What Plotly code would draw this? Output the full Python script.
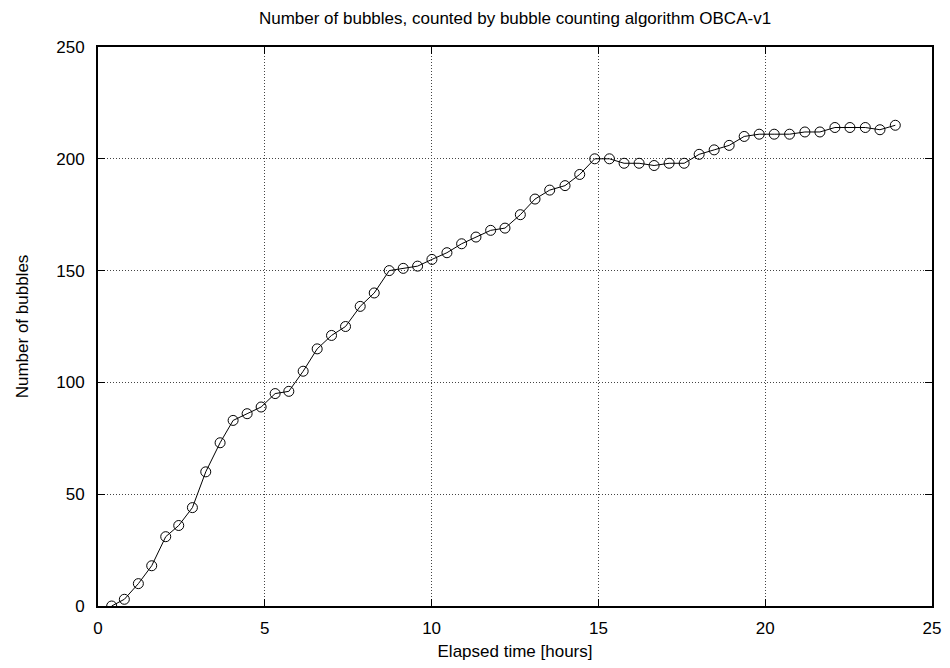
import plotly.graph_objects as go

# Elapsed time in hours and bubble counts from OBCA-v1
hours = [0.41, 0.79, 1.21, 1.61, 2.03, 2.42, 2.83, 3.23, 3.66, 4.05,
         4.47, 4.89, 5.31, 5.72, 6.15, 6.57, 7.00, 7.42, 7.86, 8.28,
         8.73, 9.15, 9.58, 10.01, 10.46, 10.90, 11.33, 11.77, 12.20, 12.66,
         13.10, 13.54, 14.00, 14.44, 14.89, 15.33, 15.77, 16.22, 16.67, 17.12,
         17.57, 18.02, 18.47, 18.92, 19.37, 19.82, 20.27, 20.73, 21.19, 21.64,
         22.09, 22.54, 23.00, 23.44, 23.90]
bubbles = [0, 3, 10, 18, 31, 36, 44, 60, 73, 83,
           86, 89, 95, 96, 105, 115, 121, 125, 134, 140,
           150, 151, 152, 155, 158, 162, 165, 168, 169, 175,
           182, 186, 188, 193, 200, 200, 198, 198, 197, 198,
           198, 202, 204, 206, 210, 211, 211, 211, 212, 212,
           214, 214, 214, 213, 215]

x_ticks = [0, 5, 10, 15, 20, 25]
y_ticks = [0, 50, 100, 150, 200, 250]

FONT = "Liberation Sans, Arial, Helvetica, sans-serif"
FS = 17

fig = go.Figure(
    go.Scatter(
        x=hours,
        y=bubbles,
        mode="lines+markers",
        line=dict(color="black", width=1),
        marker=dict(symbol="circle-open", size=10, color="black",
                    line=dict(color="black", width=1)),
        showlegend=False,
    )
)

axis_common = dict(
    showline=True,
    linecolor="black",
    linewidth=2,
    mirror="allticks",
    ticks="inside",
    ticklen=7,
    tickwidth=1,
    tickcolor="black",
    showgrid=True,
    gridcolor="#444444",
    griddash="1px,2px",
    gridwidth=1,
    zeroline=False,
    automargin=False,
    tickfont=dict(family=FONT, size=FS, color="black"),
)

fig.update_xaxes(
    range=[0, 25],
    tickvals=x_ticks,
    ticklabelstandoff=6,
    title=dict(text="Elapsed time [hours]", font=dict(family=FONT, size=FS, color="black"),
               standoff=8),
    **axis_common,
)
fig.update_yaxes(
    range=[0, 250],
    tickvals=y_ticks,
    ticklabelstandoff=8,
    title=dict(text="Number of bubbles", font=dict(family=FONT, size=FS, color="black"),
               standoff=23),
    **axis_common,
)

fig.update_layout(
    width=950,
    height=668,
    margin=dict(l=98, r=18, t=47, b=62),
    paper_bgcolor="white",
    plot_bgcolor="white",
    title=dict(
        text="Number of bubbles, counted by bubble counting algorithm OBCA-v1",
        font=dict(family=FONT, size=FS, color="black"),
        xref="paper", x=0.5, xanchor="center",
        yref="container", y=0.973, yanchor="middle",
    ),
)

fig.write_html("out.html")
